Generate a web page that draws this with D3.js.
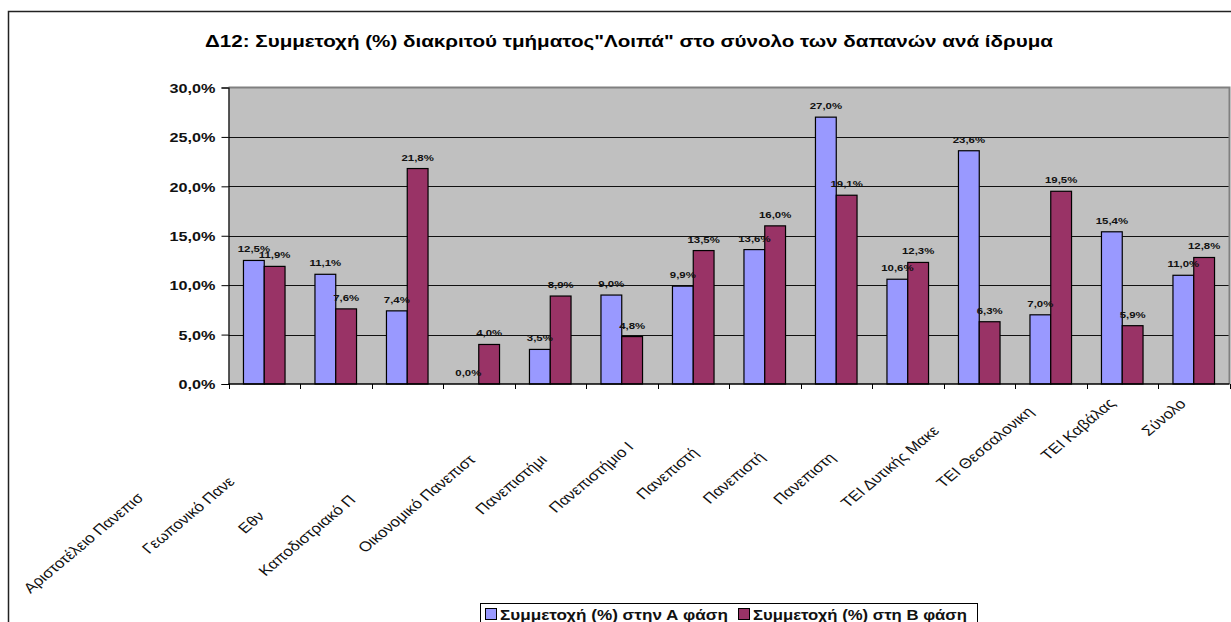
<!DOCTYPE html>
<html>
<head>
<meta charset="utf-8">
<script src="https://cdn.jsdelivr.net/npm/d3@7"></script>
<style>
  body { margin: 0; background: #fff; }
  svg text { font-family: "Liberation Sans", Arial, sans-serif; }
</style>
</head>
<body>
<div class="canvas"></div>
<script>
// data
const categories = [
    'Αριστοτέλειο Πανεπισ', 'Γεωπονικό Πανε', 'Εθν', 'Καποδιστριακό Π',
    'Οικονομικό Πανεπιστ', 'Πανεπιστήμι', 'Πανεπιστήμιο Ι', 'Πανεπιστή',
    'Πανεπιστή', 'Πανεπιστη', 'ΤΕΙ Δυτικής Μακε', 'ΤΕΙ Θεσσαλονικη',
    'ΤΕΙ Καβάλας', 'Σύνολο'
];
const seriesNames = ['Συμμετοχή (%) στην Α φάση', 'Συμμετοχή (%) στη Β φάση'];
const phaseA = [12.5, 11.1, 7.4, 0.0, 3.5, 9.0, 9.9, 13.6, 27.0, 10.6, 23.6, 7.0, 15.4, 11.0];
const phaseB = [11.9, 7.6, 21.8, 4.0, 8.9, 4.8, 13.5, 16.0, 19.1, 12.3, 6.3, 19.5, 5.9, 12.8];
const yTicks = [0, 5, 10, 15, 20, 25, 30];
const title = 'Δ12: Συμμετοχή (%) διακριτού τμήματος"Λοιπά" στο σύνολο των δαπανών ανά  ίδρυμα';

// truncated labels are pushed down their own baseline (px, unstretched)
const labelShift = [134, 111, 160, 137, 80, 80, 62, 70, 76, 77, 39, 12, 0, 1];

const colors = ['#9999ff', '#993366'];
const sx = 1.2; // the source picture is stretched sideways

const dim = { width: 1231, height: 622 };
const plot = { left: 228.5, right: 1229.5, top: 87.5, bottom: 384 };

const svg = d3.select('.canvas').append('svg')
    .attr('width', dim.width)
    .attr('height', dim.height);

// outer chart border
svg.append('rect')
    .attr('x', 8.5).attr('y', 11.5)
    .attr('width', 1300).attr('height', 700)
    .attr('fill', '#fff')
    .attr('stroke', '#222')
    .attr('stroke-width', 1.5);

svg.append('text')
    .attr('x', 205).attr('y', 47)
    .attr('textLength', 848)
    .attr('lengthAdjust', 'spacingAndGlyphs')
    .attr('font-size', 16)
    .attr('font-weight', 'bold')
    .text(title);

const x0 = d3.scaleBand()
    .domain(categories.map((d, i) => i))
    .range([plot.left, plot.right])
    .padding(0);

const x1 = d3.scaleBand()
    .domain([0, 1])
    .range([0, x0.bandwidth()])
    .paddingInner(0)
    .paddingOuter(0.72);

const y = d3.scaleLinear()
    .domain([0, 30])
    .range([plot.bottom, plot.top]);

const fmt = v => d3.format('.1f')(v).replace('.', ',') + '%';

// plot area
svg.append('rect')
    .attr('x', plot.left).attr('y', plot.top)
    .attr('width', plot.right - plot.left)
    .attr('height', plot.bottom - plot.top)
    .attr('fill', '#c0c0c0');

// gridlines
svg.append('g')
    .selectAll('line')
    .data(yTicks.filter(t => t > 0 && t < 30))
    .join('line')
    .attr('x1', plot.left).attr('x2', plot.right)
    .attr('y1', d => Math.round(y(d)) + 0.5)
    .attr('y2', d => Math.round(y(d)) + 0.5)
    .attr('stroke', '#111')
    .attr('stroke-width', 1);

// plot border (top and right)
svg.append('path')
    .attr('d', `M${plot.left},${plot.top}H${plot.right}V${plot.bottom}`)
    .attr('fill', 'none')
    .attr('stroke', '#808080')
    .attr('stroke-width', 2);

// bars
const rows = categories.map((c, i) => ({ i, values: [phaseA[i], phaseB[i]] }));

const groups = svg.append('g')
    .selectAll('g')
    .data(rows)
    .join('g')
    .attr('transform', d => `translate(${x0(d.i)},0)`);

groups.selectAll('rect')
    .data(d => d.values.map((v, s) => ({ v, s })))
    .join('rect')
    .filter(d => d.v > 0)
    .attr('x', d => x1(d.s))
    .attr('y', d => y(d.v))
    .attr('width', x1.bandwidth())
    .attr('height', d => y(0) - y(d.v))
    .attr('fill', d => colors[d.s])
    .attr('stroke', '#000')
    .attr('stroke-width', 1.2);

// value labels
groups.selectAll('text')
    .data(d => d.values.map((v, s) => ({ v, s })))
    .join('text')
    .attr('transform', d => `translate(${x1(d.s) + x1.bandwidth() / 2},${y(d.v) - 8}) scale(${sx},1)`)
    .attr('text-anchor', 'middle')
    .attr('font-size', 9.5)
    .attr('font-weight', 'bold')
    .attr('fill', '#111')
    .text(d => fmt(d.v));

// y axis
const yAxis = svg.append('g')
    .attr('transform', `translate(${plot.left},0)`)
    .call(d3.axisLeft(y).tickValues(yTicks).tickSize(7).tickPadding(6).tickFormat(fmt));
yAxis.select('.domain').attr('stroke', '#000').attr('stroke-width', 1.2);
yAxis.selectAll('.tick line').attr('stroke', '#000');
yAxis.selectAll('.tick text')
    .attr('font-size', 13.5)
    .attr('font-weight', 'bold')
    .attr('font-family', '"Liberation Sans", Arial, sans-serif')
    .attr('fill', '#111')
    .attr('dy', '0.35em')
    .attr('x', 0)
    .attr('transform', `translate(-13,0) scale(${sx},1)`);

// x axis baseline and boundary ticks
const bounds = categories.map((c, i) => x0(i)).concat([plot.right]);
svg.append('line')
    .attr('x1', plot.left).attr('x2', plot.right)
    .attr('y1', plot.bottom).attr('y2', plot.bottom)
    .attr('stroke', '#000').attr('stroke-width', 1.5);
svg.append('g')
    .selectAll('line')
    .data(bounds)
    .join('line')
    .attr('x1', d => Math.round(d) + 0.5).attr('x2', d => Math.round(d) + 0.5)
    .attr('y1', plot.bottom).attr('y2', plot.bottom + 5)
    .attr('stroke', '#000');

// category labels, rotated
svg.append('g')
    .selectAll('text')
    .data(categories)
    .join('text')
    .attr('transform', (d, i) => `translate(${x0(i) + x0.bandwidth() / 2 - 6},404) scale(${sx},1) rotate(-45)`)
    .attr('x', (d, i) => -labelShift[i])
    .attr('text-anchor', 'end')
    .attr('font-size', 14)
    .attr('fill', '#111')
    .text(d => d);

// legend
const legend = svg.append('g');
legend.append('rect')
    .attr('x', 480.5).attr('y', 603.5)
    .attr('width', 497).attr('height', 40)
    .attr('fill', '#fff')
    .attr('stroke', '#000');

const legendX = [485, 738];
const legendW = [228, 214];
const items = legend.selectAll('g')
    .data(seriesNames)
    .join('g')
    .attr('transform', (d, i) => `translate(${legendX[i]},0)`);
items.append('rect')
    .attr('x', 0.5).attr('y', 608.5)
    .attr('width', 11).attr('height', 11)
    .attr('fill', (d, i) => colors[i])
    .attr('stroke', '#000');
items.append('text')
    .attr('x', 15).attr('y', 620)
    .attr('textLength', (d, i) => legendW[i])
    .attr('lengthAdjust', 'spacingAndGlyphs')
    .attr('font-size', 14.5)
    .attr('font-weight', 'bold')
    .attr('fill', '#111')
    .text(d => d);
</script>
</body>
</html>
